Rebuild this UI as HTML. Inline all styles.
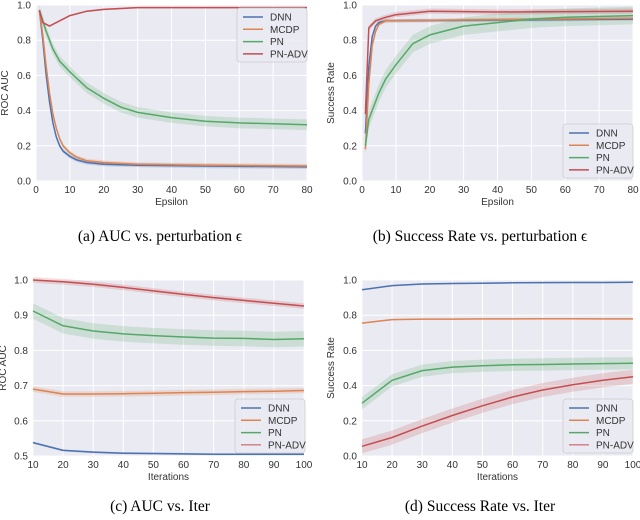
<!DOCTYPE html>
<html><head><meta charset="utf-8"><style>
html,body{margin:0;padding:0;background:#fff;width:640px;height:520px;overflow:hidden}
svg{display:block;font-family:"Liberation Sans",sans-serif}
.cap{font-family:"Liberation Serif",serif;font-size:15.5px;fill:#000}
</style></head><body>
<svg id="fig" width="640" height="520" viewBox="0 0 640 520"></svg>
<script>
// ---- data ----
const seriesNames = ["DNN","MCDP","PN","PN-ADV"];
const colors = ["#4C72B0","#DD8452","#55A868","#C44E52"];
// Panel a: ROC AUC vs epsilon
const aDNNx = [1,2,3,4,5,6,7,8,10,12,15,20,30,50,80];
const aDNNy = [0.97,0.8,0.6,0.45,0.33,0.25,0.2,0.17,0.14,0.12,0.105,0.095,0.09,0.085,0.08];
const aMCDPx = [1,2,3,4,5,6,7,8,10,12,15,20,30,50,80];
const aMCDPy = [0.97,0.83,0.65,0.5,0.38,0.3,0.24,0.2,0.16,0.135,0.115,0.105,0.095,0.09,0.085];
const aPNx = [1,3,5,7,10,15,20,25,30,40,50,60,70,80];
const aPNy = [0.97,0.85,0.75,0.68,0.62,0.53,0.47,0.42,0.39,0.36,0.34,0.33,0.325,0.32];
const aADVx = [1,2,4,6,10,15,20,30,50,80];
const aADVy = [0.97,0.9,0.88,0.9,0.94,0.965,0.975,0.985,0.985,0.985];
// Panel b: success rate vs epsilon
const bDNNx = [1,2,3,4,5,7,80];
const bDNNy = [0.27,0.65,0.82,0.88,0.9,0.91,0.92];
const bMCDPx = [1,2,3,4,5,7,80];
const bMCDPy = [0.18,0.55,0.77,0.85,0.89,0.91,0.925];
const bPNx = [1,2,5,7,10,15,20,30,40,50,60,80];
const bPNy = [0.2,0.35,0.5,0.58,0.66,0.78,0.83,0.88,0.9,0.92,0.93,0.94];
const bADVx = [1,2,4,7,10,20,40,80];
const bADVy = [0.38,0.87,0.91,0.93,0.945,0.965,0.96,0.965];
// Panels c,d: vs iterations
const iters = [10,20,30,40,50,60,70,80,90,100];
const cDNN = [0.538,0.516,0.511,0.508,0.507,0.506,0.505,0.505,0.505,0.505];
const cMCDP = [0.69,0.676,0.676,0.677,0.678,0.68,0.681,0.683,0.684,0.686];
const cPN = [0.912,0.87,0.855,0.847,0.842,0.838,0.835,0.834,0.831,0.833];
const cADV = [1.0,0.995,0.988,0.979,0.969,0.959,0.95,0.942,0.934,0.926];
const dDNN = [0.945,0.968,0.977,0.98,0.982,0.984,0.985,0.986,0.986,0.987];
const dMCDP = [0.755,0.775,0.778,0.778,0.779,0.779,0.78,0.78,0.779,0.779];
const dPN = [0.3,0.43,0.485,0.505,0.513,0.518,0.52,0.523,0.525,0.527];
const dADV = [0.055,0.105,0.17,0.23,0.285,0.335,0.375,0.405,0.43,0.45];
// band half-widths
const aBand = [0.012,0.012,0.03,0.005];
const bBand = [0.01,0.01,0.05,0.015];
const cBand = [0.003,0.008,0.022,0.008];
const dBand = [0.004,0.004,0.035,0.04];
const ticksEps = [0,10,20,30,40,50,60,70,80];
const ticksIter = [10,20,30,40,50,60,70,80,90,100];
const ticksY1 = [0,0.2,0.4,0.6,0.8,1.0];
const ticksY2 = [0.5,0.6,0.7,0.8,0.9,1.0];

const NS="http://www.w3.org/2000/svg";
const svg=document.getElementById('fig');
function mk(tag,attrs,parent){const e=document.createElementNS(NS,tag);for(const k in attrs)e.setAttribute(k,attrs[k]);(parent||svg).appendChild(e);return e;}

function panel(p){
  const g=mk('g',{});
  
  
  const sx=v=>p.x0+(v-p.xmin)/(p.xmax-p.xmin)*(p.x1-p.x0);
  const sy=v=>p.y1-(v-p.ymin)/(p.ymax-p.ymin)*(p.y1-p.y0);
  const bg=mk('rect',{x:p.x0,y:p.y0,width:p.x1-p.x0,height:p.y1-p.y0,fill:'#EAEAF2'},g);
  
  
  p.xt.forEach(t=>{
    mk('line',{x1:sx(t),x2:sx(t),y1:p.y0,y2:p.y1,stroke:'#fff','stroke-width':1},g);
    const tx=mk('text',{x:sx(t),y:p.y1+12,'font-size':10,fill:'#333','text-anchor':'middle'},g);
    tx.textContent=t;
    
    
  });
  p.yt.forEach(t=>{
    mk('line',{x1:p.x0,x2:p.x1,y1:sy(t),y2:sy(t),stroke:'#fff','stroke-width':1},g);
    const tx=mk('text',{x:p.x0-5,y:sy(t)+3.5,'font-size':10,fill:'#333','text-anchor':'end'},g);
    tx.textContent=t.toFixed(1);
    
    
  });
  p.series.forEach((s,i)=>{
    const up=s.x.map((x,j)=>sx(x).toFixed(1)+','+sy(s.y[j]+p.band[i]).toFixed(1));
    const dn=s.x.map((x,j)=>sx(x).toFixed(1)+','+sy(s.y[j]-p.band[i]).toFixed(1)).reverse();
    const b=mk('polygon',{points:up.concat(dn).join(' '),fill:colors[i],'fill-opacity':0.2},g);
    
    
  });
  p.series.forEach((s,i)=>{
    const l=mk('polyline',{points:s.x.map((x,j)=>sx(x).toFixed(1)+','+sy(s.y[j]).toFixed(1)).join(' '),fill:'none',stroke:colors[i],'stroke-width':1.5,'stroke-linejoin':'round'},g);
    
    
  });
  const xl=mk('text',{x:(p.x0+p.x1)/2,y:p.y1+24,'font-size':10,fill:'#333','text-anchor':'middle'},g);
  xl.textContent=p.xlabel;
  
  
  const yx=p.ylx, yy=(p.y0+p.y1)/2;
  const yl=mk('text',{x:yx,y:yy,'font-size':10,fill:'#333','text-anchor':'middle',transform:`rotate(-90 ${yx} ${yy})`},g);
  yl.textContent=p.ylabel;
  
  
  // legend
  const lg=mk('g',{},g);
  
  
  mk('rect',{x:p.lx,y:p.ly,width:70,height:54,rx:3,fill:'#EAEAF2','fill-opacity':0.8,stroke:'#ccc','stroke-width':0.8},lg);
  seriesNames.forEach((n,i)=>{
    const yy2=p.ly+9+i*12.3;
    mk('line',{x1:p.lx+6,x2:p.lx+26,y1:yy2,y2:yy2,stroke:colors[i],'stroke-width':p.thinLast&&i===3?1:1.5},lg);
    const t=mk('text',{x:p.lx+33,y:yy2+3.5,'font-size':10,fill:'#333'},lg);
    t.textContent=n;
    
    
  });
  const c=mk('text',{x:p.capx,y:p.capy,'text-anchor':'middle',class:'cap'});
  c.textContent=p.caption;
  
  
}
const it=a=>({x:iters,y:a});
panel({name:'panel-a',x0:36,x1:307,y0:5,y1:181,xmin:0,xmax:80,ymin:0,ymax:1,xt:ticksEps,yt:ticksY1,
  series:[{x:aDNNx,y:aDNNy},{x:aMCDPx,y:aMCDPy},{x:aPNx,y:aPNy},{x:aADVx,y:aADVy}],band:aBand,
  xlabel:'Epsilon',ylabel:'ROC AUC',ylx:8,lx:237,ly:8,capx:160,capy:241,caption:'(a)  AUC vs. perturbation \u03F5'});
panel({name:'panel-b',x0:362,x1:633,y0:5,y1:181,xmin:0,xmax:80,ymin:0,ymax:1,xt:ticksEps,yt:ticksY1,
  series:[{x:bDNNx,y:bDNNy},{x:bMCDPx,y:bMCDPy},{x:bPNx,y:bPNy},{x:bADVx,y:bADVy}],band:bBand,
  xlabel:'Epsilon',ylabel:'Success Rate',ylx:334,lx:563,ly:124,capx:480,capy:241,caption:'(b)  Success Rate vs. perturbation \u03F5'});
panel({name:'panel-c',x0:33,x1:304,y0:280,y1:456,xmin:10,xmax:100,ymin:0.5,ymax:1,xt:ticksIter,yt:ticksY2,
  series:[it(cDNN),it(cMCDP),it(cPN),it(cADV)],band:cBand,thinLast:true,
  xlabel:'Iterations',ylabel:'ROC AUC',ylx:6,lx:235,ly:399,capx:160,capy:511,caption:'(c)  AUC vs. Iter'});
panel({name:'panel-d',x0:362,x1:633,y0:280,y1:456,xmin:10,xmax:100,ymin:0,ymax:1,xt:ticksIter,yt:ticksY1,
  series:[it(dDNN),it(dMCDP),it(dPN),it(dADV)],band:dBand,thinLast:true,
  xlabel:'Iterations',ylabel:'Success Rate',ylx:334,lx:563,ly:399,capx:480,capy:511,caption:'(d)  Success Rate vs. Iter'});
</script>
</body></html>
